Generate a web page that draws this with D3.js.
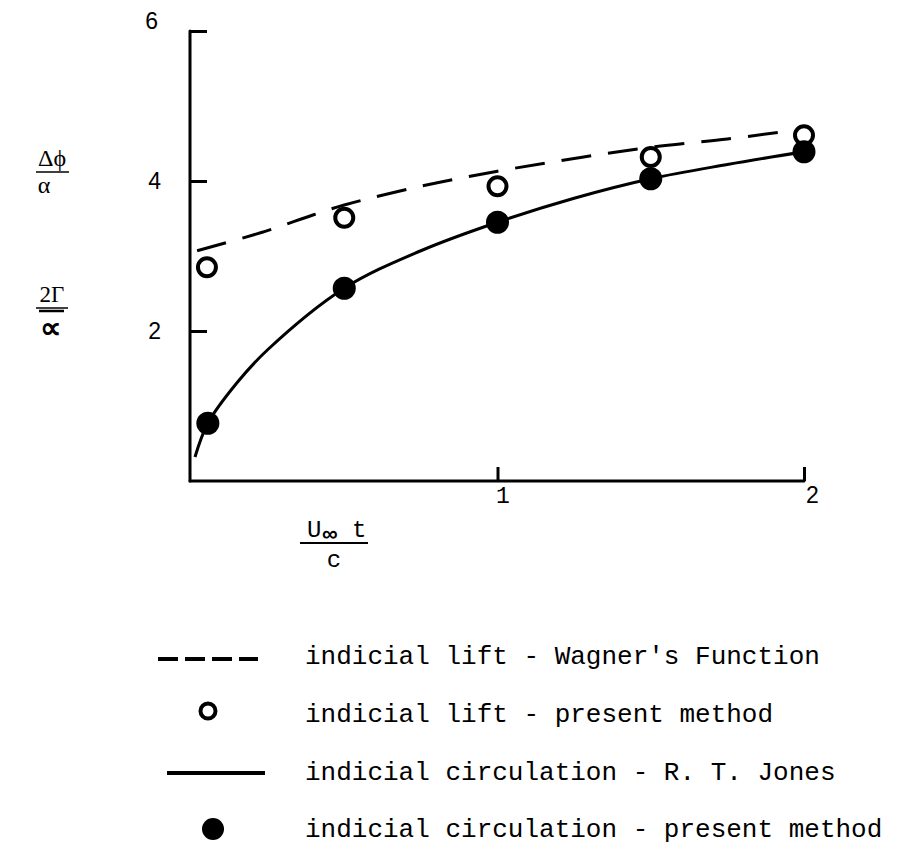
<!DOCTYPE html>
<html>
<head>
<meta charset="utf-8">
<script src="https://cdn.jsdelivr.net/npm/d3@7"></script>
<style>
  body { margin: 0; background: #fff; }
  svg { display: block; }
</style>
</head>
<body>
<svg id="chart" width="905" height="865"></svg>
<script>
// values
const xTicks = [1, 2];
const yTicks = [2, 4, 6];

// Wagner's function (dashed)
const wagnerX = [0.02, 0.235, 0.4, 0.5, 0.75, 1.0, 1.25, 1.5, 1.75, 1.92];
const wagnerY = [3.07, 3.32, 3.55, 3.68, 3.93, 4.13, 4.30, 4.45, 4.56, 4.65];

// R. T. Jones (solid)
const jonesX = [0.013, 0.055, 0.15, 0.25, 0.5, 0.75, 1.0, 1.25, 1.5, 1.75, 2.0];
const jonesY = [0.32, 0.77, 1.31, 1.75, 2.57, 3.07, 3.45, 3.77, 4.03, 4.22, 4.39];

// present method points
const liftX = [0.052, 0.5, 1.0, 1.5, 2.0];
const liftY = [2.85, 3.51, 3.93, 4.32, 4.61];
const circX = [0.055, 0.5, 1.0, 1.5, 2.0];
const circY = [0.77, 2.57, 3.45, 4.03, 4.39];

const legendLabels = [
    "indicial lift - Wagner's Function",
    "indicial lift - present method",
    "indicial circulation - R. T. Jones",
    "indicial circulation - present method"
];

const svg = d3.select("#chart");
const x = d3.scaleLinear().domain([0, 2]).range([191, 804]);
const y = d3.scaleLinear().domain([0, 6]).range([481, 31]);

const mono = "'Liberation Mono', 'DejaVu Sans Mono', monospace";
const sans = "'Liberation Sans', Arial, sans-serif";
const serif = "'Liberation Serif', 'DejaVu Serif', serif";

// y axis
const yAxis = svg.append("g")
    .attr("transform", "translate(190,0)")
    .call(d3.axisLeft(y).tickValues(yTicks).tickFormat(d3.format("d"))
        .tickSize(-17).tickSizeOuter(0).tickPadding(29));
yAxis.select(".domain").attr("d", `M0,${y(0)}V${y(6)}`);
yAxis.selectAll("line").attr("stroke-width", 3);
yAxis.selectAll("text")
    .attr("font-family", sans)
    .attr("font-size", 23)
    .attr("fill", "#000")
    .attr("dx", d => d === 6 ? -3 : 0)
    .attr("dy", d => d === 6 ? "-0.1em" : "0.32em");

// x axis
const xAxis = svg.append("g")
    .attr("transform", `translate(0,${y(0)})`)
    .call(d3.axisBottom(x).tickValues(xTicks).tickFormat(d3.format("d"))
        .tickSize(-14).tickSizeOuter(0).tickPadding(6));
xAxis.select(".domain").attr("d", `M190,0H${x(2)}`);
xAxis.selectAll("line").attr("stroke-width", 3);
xAxis.selectAll("text")
    .attr("font-family", d => d === 1 ? mono : sans)
    .attr("font-size", 23)
    .attr("fill", "#000")
    .attr("dx", d => d === 1 ? 5 : 8);

svg.selectAll(".domain")
    .attr("stroke", "#000")
    .attr("stroke-width", 3)
    .attr("stroke-linejoin", "round")
    .attr("stroke-linecap", "round");

// curves
const line = d3.line()
    .x(d => x(d[0]))
    .y(d => y(d[1]))
    .curve(d3.curveCatmullRom.alpha(0.5));

svg.append("path")
    .datum(wagnerX.map((v, i) => [v, wagnerY[i]]))
    .attr("d", line)
    .attr("fill", "none")
    .attr("stroke", "#000")
    .attr("stroke-width", 3)
    .attr("stroke-dasharray", "30,17");

svg.append("path")
    .datum(jonesX.map((v, i) => [v, jonesY[i]]))
    .attr("d", line)
    .attr("fill", "none")
    .attr("stroke", "#000")
    .attr("stroke-width", 3);

// points
svg.selectAll(".lift")
    .data(liftX.map((v, i) => [v, liftY[i]]))
    .join("circle")
    .attr("class", "lift")
    .attr("cx", d => x(d[0]))
    .attr("cy", d => y(d[1]))
    .attr("r", 9)
    .attr("fill", "#fff")
    .attr("stroke", "#000")
    .attr("stroke-width", 4);

svg.selectAll(".circ")
    .data(circX.map((v, i) => [v, circY[i]]))
    .join("circle")
    .attr("class", "circ")
    .attr("cx", d => x(d[0]))
    .attr("cy", d => y(d[1]))
    .attr("r", 11.5)
    .attr("fill", "#000");

// y labels
const yl = svg.append("g").attr("font-family", serif).attr("fill", "#000").attr("text-anchor", "middle");
yl.append("text").attr("x", 52).attr("y", 166).attr("font-size", 24).text("\u0394\u03d5");
yl.append("line").attr("x1", 36).attr("x2", 69).attr("y1", 172).attr("y2", 172).attr("stroke", "#000").attr("stroke-width", 1.5);
yl.append("text").attr("x", 44).attr("y", 193).attr("font-size", 24).text("\u03b1");
yl.append("text").attr("x", 52).attr("y", 302).attr("font-size", 23).text("2\u0393");
yl.append("line").attr("x1", 36).attr("x2", 68).attr("y1", 308).attr("y2", 308).attr("stroke", "#000").attr("stroke-width", 1.5);
yl.append("line").attr("x1", 39).attr("x2", 64).attr("y1", 311).attr("y2", 311).attr("stroke", "#000").attr("stroke-width", 2.5);
yl.append("text").attr("x", 50).attr("y", 338).attr("font-size", 30).attr("font-weight", "bold").attr("font-family", sans).text("\u221d");

// x label
const xl = svg.append("g").attr("font-family", mono).attr("fill", "#000").attr("font-size", 24);
xl.append("text").attr("x", 307).attr("y", 537).text("U");
xl.append("text").attr("x", 322).attr("y", 541).attr("font-size", 22).attr("font-weight", "bold").attr("font-family", sans).text("\u221e");
xl.append("text").attr("x", 352).attr("y", 537).text("t");
xl.append("line").attr("x1", 300).attr("x2", 368).attr("y1", 543).attr("y2", 543).attr("stroke", "#000").attr("stroke-width", 2);
xl.append("text").attr("x", 334).attr("y", 567).attr("text-anchor", "middle").text("c");

// legend
const legendY = [656, 714, 772, 829];
const lg = svg.append("g");
lg.append("line").attr("x1", 158).attr("x2", 258).attr("y1", legendY[0] + 3).attr("y2", legendY[0] + 3)
    .attr("stroke", "#000").attr("stroke-width", 4).attr("stroke-dasharray", "20,7");
lg.append("circle").attr("cx", 208).attr("cy", legendY[1] - 3).attr("r", 7.5)
    .attr("fill", "#fff").attr("stroke", "#000").attr("stroke-width", 4);
lg.append("line").attr("x1", 167).attr("x2", 265).attr("y1", legendY[2] + 1).attr("y2", legendY[2] + 1)
    .attr("stroke", "#000").attr("stroke-width", 4);
lg.append("circle").attr("cx", 213).attr("cy", legendY[3]).attr("r", 11).attr("fill", "#000");

lg.selectAll("text")
    .data(legendLabels)
    .join("text")
    .attr("x", 305)
    .attr("y", (d, i) => legendY[i])
    .attr("dy", "0.32em")
    .attr("font-family", mono)
    .attr("font-size", 26)
    .attr("fill", "#000")
    .text(d => d);
</script>
</body>
</html>
